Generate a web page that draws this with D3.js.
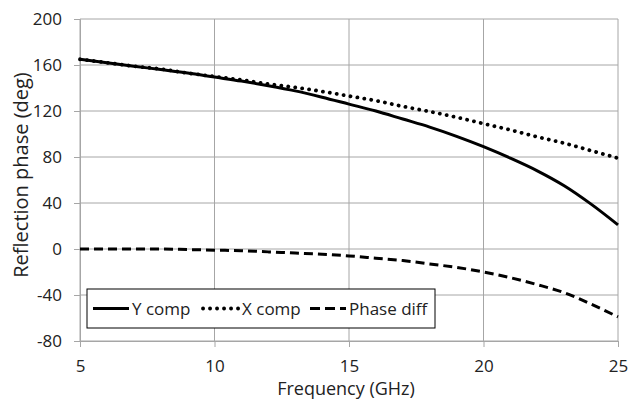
<!DOCTYPE html>
<html>
<head>
<meta charset="utf-8">
<script src="https://cdn.jsdelivr.net/npm/d3@7"></script>
<style>
  body { margin: 0; background: #fff; }
  text { font-family: "Open Sans", sans-serif; fill: #222; }
</style>
</head>
<body>
<div id="chart"></div>
<script>
// frequency points (GHz)
const freq = [5, 6, 7, 8, 9, 10, 11, 12, 13, 14, 15, 16, 17, 18, 19, 20, 21, 22, 23, 24, 25];
const yComp = [165, 162, 159, 156, 153, 149.5, 146, 142, 137.5, 132, 126, 120, 113, 106, 98, 89, 79, 68, 55, 39, 21];
const xComp = [165, 162, 159, 156.5, 153, 150, 147, 143.5, 140.5, 137, 133, 129, 124, 119.5, 114.5, 109, 103.5, 97.5, 92, 85.5, 79];
const phaseDiff = [0, 0, 0, 0, -0.5, -1, -1.5, -2.5, -3.5, -4.5, -6, -8, -10, -13, -16, -20, -25, -31, -38, -48, -59];
const xTicks = [5, 10, 15, 20, 25];
const yTicks = [-80, -40, 0, 40, 80, 120, 160, 200];
const seriesNames = ["Y comp", "X comp", "Phase diff"];

const W = 640, H = 403;
const margin = {top: 19, right: 22, bottom: 62, left: 80};
const width = W - margin.left - margin.right;
const height = H - margin.top - margin.bottom;

const svg = d3.select("#chart").append("svg")
  .attr("width", W).attr("height", H);

const g = svg.append("g")
  .attr("transform", "translate(" + margin.left + "," + margin.top + ")");

const x = d3.scaleLinear().domain([5, 25]).range([0, width]);
const y = d3.scaleLinear().domain([-80, 200]).range([height, 0]);

// gridlines
g.append("g")
  .selectAll("line.h")
  .data(yTicks)
  .enter().append("line")
    .attr("x1", 0).attr("x2", width)
    .attr("y1", d => y(d)).attr("y2", d => y(d))
    .attr("stroke", "#a6a6a6").attr("stroke-width", 1);
g.append("g")
  .selectAll("line.v")
  .data(xTicks)
  .enter().append("line")
    .attr("x1", d => x(d)).attr("x2", d => x(d))
    .attr("y1", 0).attr("y2", height)
    .attr("stroke", "#a6a6a6").attr("stroke-width", 1);

// axes (plain hyphen for negatives, like the original)
const fmt = d => String(d);
const xAxis = g.append("g")
  .attr("transform", "translate(0," + height + ")")
  .call(d3.axisBottom(x).tickValues(xTicks).tickFormat(fmt).tickSize(6).tickPadding(13));
const yAxis = g.append("g")
  .call(d3.axisLeft(y).tickValues(yTicks).tickFormat(fmt).tickSize(6).tickPadding(12));
[xAxis, yAxis].forEach(a => {
  a.select(".domain").attr("stroke", "#a6a6a6");
  a.selectAll(".tick line").attr("stroke", "#a6a6a6");
  a.selectAll(".tick text")
    .style("font-family", "'Open Sans', sans-serif")
    .style("font-size", "17px")
    .attr("fill", "#222");
});

// lines
const lineGen = vals => d3.line()
  .x((d, i) => x(freq[i]))
  .y(d => y(d))
  .curve(d3.curveMonotoneX)(vals);

const styles = [
  {dash: null, cap: "butt", w: 3},
  {dash: "0.1 6.9", cap: "round", w: 3.8},
  {dash: "9 5", cap: "butt", w: 3}
];
const allSeries = [yComp, xComp, phaseDiff];

allSeries.forEach((vals, i) => {
  g.append("path")
    .attr("d", lineGen(vals))
    .attr("fill", "none")
    .attr("stroke", "#000")
    .attr("stroke-width", styles[i].w)
    .attr("stroke-linecap", styles[i].cap)
    .attr("stroke-dasharray", styles[i].dash);
});

// legend
const legend = svg.append("g").attr("transform", "translate(87,289)");
legend.append("rect")
  .attr("width", 348).attr("height", 39)
  .attr("fill", "#fff").attr("stroke", "#000").attr("stroke-width", 1);
const itemX = [6, 116, 223];
seriesNames.forEach((name, i) => {
  const it = legend.append("g").attr("transform", "translate(" + itemX[i] + ",0)");
  it.append("line")
    .attr("x1", 0).attr("x2", 36).attr("y1", 19.5).attr("y2", 19.5)
    .attr("stroke", "#000")
    .attr("stroke-width", styles[i].w)
    .attr("stroke-linecap", styles[i].cap)
    .attr("stroke-dasharray", i == 2 ? "10 5" : styles[i].dash);
  it.append("text")
    .attr("x", 39).attr("y", 26)
    .style("font-size", "17px")
    .text(name);
});

// axis titles
svg.append("text")
  .attr("x", margin.left + width / 2 - 3).attr("y", 395)
  .attr("text-anchor", "middle")
  .style("font-size", "18px")
  .text("Frequency (GHz)");
svg.append("text")
  .attr("transform", "translate(28,175) rotate(-90)")
  .attr("text-anchor", "middle")
  .style("font-size", "20px")
  .text("Reflection phase (deg)");
</script>
</body>
</html>
